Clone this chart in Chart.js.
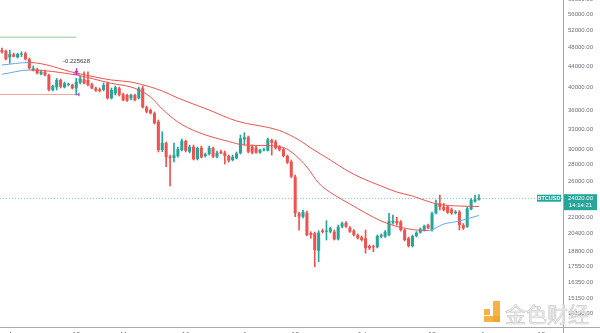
<!DOCTYPE html>
<html>
<head>
<meta charset="utf-8">
<script src="https://cdn.jsdelivr.net/npm/chart.js@4.4.0/dist/chart.umd.min.js"></script>
<style>
  html, body { margin: 0; padding: 0; background: #fff; overflow: hidden; }
  #wrap { width: 600px; height: 333px; overflow: hidden; position: relative; }
  #wrap canvas { position: absolute; left: 0; top: 0; }
</style>
</head>
<body>
<div id="wrap"><canvas id="btcChart" width="600" height="345"></canvas></div>
<script>
// BTCUSD daily candles (open / high / low / close)
const opens = [47460,47240,45890,46530,45890,46450,46740,45480,43290,43430,42500,42950,42310,39490,39980,41350,39980,40470,40410,39800,
  40840,41480,41350,40540,39800,39620,39490,40720,38010,38890,39800,38720,38590,38010,38590,38010,39800,36470,36020,35480,
  34130,29970,30950,29060,28890,29160,29970,31240,29740,30430,28760,30290,29160,29430,30250,29060,29740,29600,29160,28630,
  28850,29520,31480,31770,30430,30290,29600,29900,29860,31380,31140,30430,30070,29160,28410,26510,22410,22060,22470,20470,
  20440,18870,20690,20590,20590,20590,19880,21070,21460,20980,20690,20280,20070,19980,19280,19220,19170,20120,20120,20280,
  21460,21660,21560,20750,19980,19280,20190,20500,20750,21230,20750,22410,23460,23100,23100,22820,22410,22570,21230,21070,
  22820,23650,23870];
const highs = [47890,47460,47460,46800,46800,47090,47020,45750,44100,43690,43290,43290,42500,40410,41660,41540,40970,40780,40600,41660,
  42110,42950,42950,40780,40040,39860,40780,40970,39860,40220,40040,38950,38770,38770,38770,40040,40220,36690,36190,35700,
  34400,32600,31100,29290,30950,30390,31530,31380,30670,30670,30390,30530,29560,30530,30390,29840,29970,29840,29290,29290,
  29700,32110,32460,31960,30670,30530,30110,30250,31670,31530,31380,30600,30250,29290,28630,26720,22540,22750,22650,20590,
  20560,20690,20850,21660,21040,20750,21230,21530,21580,21090,20800,20380,20190,20750,19370,19370,20280,20380,20710,22410,
  22230,22000,21680,20850,20100,20280,20610,20950,21230,21330,22540,23820,24380,23460,23230,22960,22700,22700,21380,23070,
  23990,24380,24420];
const lows = [46800,45330,44640,45950,45740,46020,45330,43490,43090,42500,42310,42120,39310,39310,39490,39860,39860,40220,39670,38590,
  40600,40600,40220,39670,39220,39130,39310,37890,37890,38590,38410,37540,37460,37720,37540,37890,36350,35530,35370,33780,
  29700,29740,27760,25400,28370,29020,29840,29700,29570,28630,28630,28890,29020,29290,28950,28890,29430,28110,28370,28500,
  28760,29430,30670,29570,29430,29500,29500,29840,29840,29290,30110,29840,29020,28170,26410,22060,20750,21930,20190,19980,
  17530,17940,20470,19820,20470,19820,19820,20950,21000,20520,20190,19910,19730,18650,18970,18780,19110,20010,20050,20190,
  21330,21230,20650,19730,19190,19190,20100,20450,20650,20850,20650,22340,22750,22650,22390,22290,22340,20750,20800,21000,
  22750,23580,23800];
const closes = [47020,45480,46600,46020,46600,46600,45480,43630,43630,42640,42950,42310,39490,40220,41350,40090,40720,40600,39800,41020,
  41660,40720,40410,39800,39370,39310,40410,38010,39490,39980,38590,37720,37600,38590,37720,39800,36470,35740,35480,33880,
  29970,30990,29020,28890,29290,30110,31280,29860,30430,28720,30250,28980,29430,30290,29060,29600,29520,29160,28540,29060,
  29520,31620,31770,29740,29600,29600,29970,30040,31480,30990,30210,30020,29160,28280,26510,22410,22060,22570,20280,20280,
  18930,20500,20560,20690,20920,19880,21070,21400,21070,20590,20280,19980,19820,19090,19090,19170,20190,20280,20590,21660,
  21630,21400,20750,19820,19280,20190,20500,20820,21140,20920,22410,23460,23070,22750,22470,22410,22570,21230,20920,22930,
  23820,23900,24020];

// two moving averages, read at a few candles (index -> price)
const maSlowIdx = [0, 7, 19, 28, 33, 38, 41, 45, 53, 60, 71, 76, 79, 84, 88, 92, 97, 101, 105, 109, 112, 117, 122];
const maSlowVal = [44300, 44810, 42690, 41350, 40970, 40040, 39310, 38060, 36020, 34250, 32780, 31380, 30250, 28630, 27340, 26350, 25400, 24710, 24260, 23660, 23330, 23170, 23120];
const maFastIdx = [0, 7, 19, 28, 33, 35, 38, 41, 45, 50, 58, 62, 67, 72, 75, 78, 81, 85, 89, 93, 97, 101, 105, 109, 113, 117, 121, 122];
const maFastVal = [42450, 43290, 42310, 40720, 40040, 39490, 38240, 36190, 34090, 32560, 31170, 30670, 30600, 30320, 29290, 27720, 25750, 24380, 23390, 22440, 21630, 21090, 20800, 20700, 21330, 21630, 22080, 22180];

// right axis price labels
const priceTicks = [60000, 56000, 52000, 48000, 44000, 40000, 36000, 33000, 30000, 28000, 26000, 22000, 20400, 18800, 17550, 16350, 15150, 14150];
// bottom axis date labels (mostly cut off by the frame)
const dateTickIdx = [3, 19, 32, 47, 63, 75, 92, 110, 124, 138];
const dateTickText = ['Apr', '18', 'May', '16', 'Jun', '13', 'Jul', '18', 'Aug', '15'];

// drawings on the chart
const lastPrice = 24020;
const lastTime = '14:14:21';
const greenLevel = 50310;
const redLevel = 38680;
const levelEndIdx = 19;
const markIdx = 19;
const markTop = 43630;
const markBottom = 42310;
const markLabelPrice = 45120;
const markLabel = '-0.225628';

const slotCount = 144; // candles plus empty space on the right
const labels = [];
for (let i = 0; i < slotCount; i++) labels.push(String(i));

const UP = '#26a69a';
const DOWN = '#ef5350';
const MA_RED = '#ef5350';
const MA_BLUE = '#64a8f0';

const candleColors = opens.map((o, i) => closes[i] >= o ? UP : DOWN);

function maSeries(idx, vals) {
    return idx.map((k, j) => ({ x: labels[k], y: vals[j] }));
}

// rising part blue, falling part red
const maSegment = {
    borderColor: c => c.p1.parsed.y > c.p0.parsed.y ? MA_BLUE : MA_RED
};

const drawings = {
    id: 'drawings',
    beforeDatasetsDraw(chart) {
        const ctx = chart.ctx;
        const xs = chart.scales.x, ys = chart.scales.y;
        const area = chart.chartArea;
        ctx.save();
        // last price dotted line
        const yLast = Math.round(ys.getPixelForValue(lastPrice)) + 0.5;
        ctx.strokeStyle = 'rgba(38,166,154,0.55)';
        ctx.lineWidth = 1;
        ctx.setLineDash([1, 2]);
        ctx.beginPath();
        ctx.moveTo(area.left, yLast);
        ctx.lineTo(area.right, yLast);
        ctx.stroke();
        ctx.setLineDash([]);
        // horizontal levels at top left
        const xEnd = xs.getPixelForValue(levelEndIdx);
        ctx.strokeStyle = '#b9dcb9';
        ctx.lineWidth = 1.6;
        ctx.beginPath();
        ctx.moveTo(area.left, ys.getPixelForValue(greenLevel));
        ctx.lineTo(xEnd, ys.getPixelForValue(greenLevel));
        ctx.stroke();
        ctx.strokeStyle = '#f2a3a3';
        ctx.lineWidth = 1;
        ctx.beginPath();
        ctx.moveTo(area.left, ys.getPixelForValue(redLevel));
        ctx.lineTo(xEnd, ys.getPixelForValue(redLevel));
        ctx.stroke();
        ctx.restore();
    },
    afterDatasetsDraw(chart) {
        const ctx = chart.ctx;
        const xs = chart.scales.x, ys = chart.scales.y;
        ctx.save();
        // magenta marker
        const mx = Math.round(xs.getPixelForValue(markIdx)) + 0.5;
        const mt = ys.getPixelForValue(markTop);
        const mb = ys.getPixelForValue(markBottom);
        ctx.strokeStyle = '#c026d3';
        ctx.fillStyle = '#c026d3';
        ctx.lineWidth = 1.2;
        ctx.beginPath();
        ctx.moveTo(mx, mt);
        ctx.lineTo(mx, mb);
        ctx.moveTo(mx - 3, mb - 1);
        ctx.lineTo(mx + 3, mb - 1);
        ctx.stroke();
        ctx.beginPath();
        ctx.moveTo(mx - 2, mb - 4);
        ctx.lineTo(mx + 2, mb - 4);
        ctx.lineTo(mx, mb - 1);
        ctx.closePath();
        ctx.fill();
        const ry = ys.getPixelForValue(redLevel);
        ctx.beginPath();
        ctx.moveTo(mx + 0.5, ry);
        ctx.lineTo(mx + 3, ry - 2);
        ctx.lineTo(mx + 3, ry + 2);
        ctx.closePath();
        ctx.fill();
        ctx.fillStyle = '#3a3a3a';
        ctx.font = '6px "Liberation Sans", Arial, sans-serif';
        ctx.textAlign = 'center';
        ctx.textBaseline = 'middle';
        ctx.fillText(markLabel, mx, ys.getPixelForValue(markLabelPrice));
        ctx.restore();
    },
    afterDraw(chart) {
        const ctx = chart.ctx;
        const ys = chart.scales.y;
        const area = chart.chartArea;
        ctx.save();
        // axis lines
        ctx.strokeStyle = '#a6a9b0';
        ctx.lineWidth = 1;
        ctx.beginPath();
        ctx.moveTo(0, Math.round(area.bottom) + 0.5);
        ctx.lineTo(chart.width, Math.round(area.bottom) + 0.5);
        ctx.moveTo(Math.round(area.right) + 0.5, 0);
        ctx.lineTo(Math.round(area.right) + 0.5, chart.height);
        ctx.stroke();
        // symbol tag and last price box
        const yLast = ys.getPixelForValue(lastPrice);
        ctx.fillStyle = UP;
        ctx.fillRect(area.right - 26, yLast - 3.5, 24, 7);
        ctx.fillRect(area.right + 1, yLast - 4, 33, 16);
        ctx.fillStyle = '#ffffff';
        ctx.textBaseline = 'middle';
        ctx.textAlign = 'center';
        ctx.font = 'bold 5.5px "Liberation Sans", Arial, sans-serif';
        ctx.fillText('BTCUSD', area.right - 14, yLast);
        ctx.font = '6px "Liberation Sans", Arial, sans-serif';
        ctx.fillText(lastPrice.toFixed(2), area.right + 17.5, yLast);
        ctx.fillText(lastTime, area.right + 17.5, yLast + 7);
        // watermark
        ctx.globalAlpha = 0.85;
        ctx.fillStyle = '#f4a623';
        ctx.fillRect(484, 309, 6, 6);
        ctx.fillRect(493, 301, 7, 21);
        ctx.fillRect(484, 316, 16, 6);
        ctx.font = '21px "Noto Sans CJK SC", sans-serif';
        ctx.textAlign = 'left';
        ctx.textBaseline = 'alphabetic';
        ctx.fillStyle = '#eeeeee';
        ctx.strokeStyle = '#c4c4c4';
        ctx.lineWidth = 0.7;
        ctx.fillText('金色财经', 505, 322);
        ctx.strokeText('金色财经', 505, 322);
        ctx.restore();
    }
};

const ctx = document.getElementById('btcChart').getContext('2d');

new Chart(ctx, {
    type: 'bar',
    data: {
        labels: labels,
        datasets: [{
            type: 'line',
            label: 'MA slow',
            data: maSeries(maSlowIdx, maSlowVal),
            borderColor: MA_RED,
            borderWidth: 1,
            pointRadius: 0,
            tension: 0.4,
            cubicInterpolationMode: 'monotone',
            segment: maSegment,
            order: 1
        }, {
            type: 'line',
            label: 'MA fast',
            data: maSeries(maFastIdx, maFastVal),
            borderColor: MA_RED,
            borderWidth: 1,
            pointRadius: 0,
            tension: 0.4,
            cubicInterpolationMode: 'monotone',
            segment: maSegment,
            order: 1
        }, {
            label: 'Body',
            data: opens.map((o, i) => [o, closes[i]]),
            backgroundColor: candleColors,
            borderWidth: 0,
            barPercentage: 0.78,
            categoryPercentage: 1,
            minBarLength: 1,
            grouped: false,
            order: 2
        }, {
            label: 'Wick',
            data: lows.map((l, i) => [l, highs[i]]),
            backgroundColor: candleColors,
            borderWidth: 0,
            barThickness: 1,
            grouped: false,
            order: 3
        }]
    },
    options: {
        responsive: false,
        animation: false,
        events: [],
        layout: { padding: 0 },
        plugins: {
            legend: { display: false },
            tooltip: { enabled: false }
        },
        scales: {
            x: {
                grid: { display: false, drawTicks: false },
                border: { display: false },
                ticks: {
                    autoSkip: false,
                    maxRotation: 0,
                    padding: 4,
                    color: '#6b6e78',
                    font: { size: 7, family: '"Liberation Sans", Arial, sans-serif' },
                    callback: (v, i) => {
                        const k = dateTickIdx.indexOf(i);
                        return k >= 0 ? dateTickText[k] : '';
                    }
                },
                afterFit: s => { s.height = 18; s.paddingLeft = 0; s.paddingRight = 0; }
            },
            y: {
                type: 'logarithmic',
                position: 'right',
                min: 13290,
                max: 59720,
                bounds: 'data',
                grid: { display: false, drawTicks: false },
                border: { display: false },
                ticks: {
                    padding: 5,
                    color: '#6b6e78',
                    font: { size: 6, family: '"Liberation Sans", Arial, sans-serif' },
                    callback: v => Number(v).toFixed(2)
                },
                afterBuildTicks: s => { s.ticks = priceTicks.map(v => ({ value: v })); },
                afterFit: s => { s.width = 37; s.paddingTop = 0; s.paddingBottom = 0; }
            }
        }
    },
    plugins: [drawings]
});
</script>
</body>
</html>
